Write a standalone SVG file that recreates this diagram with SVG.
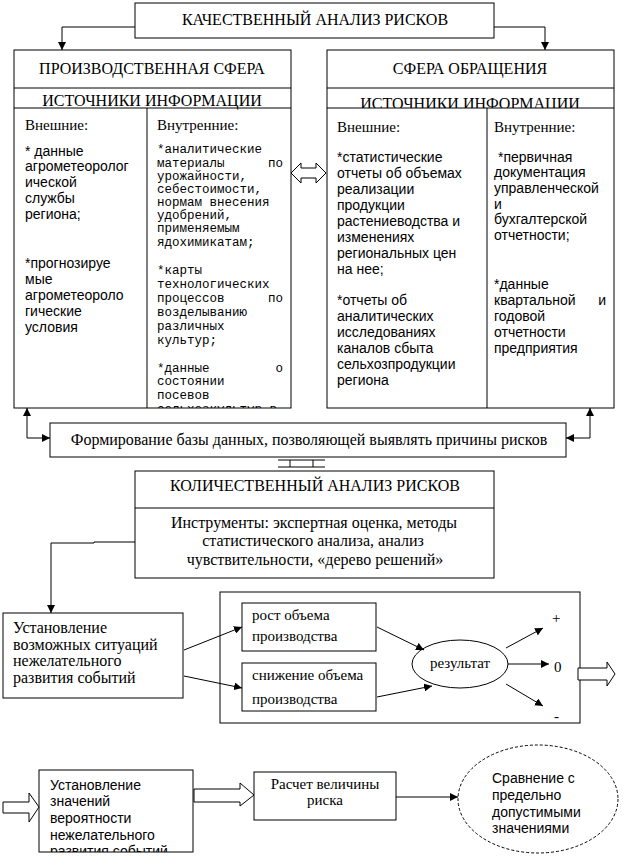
<svg xmlns="http://www.w3.org/2000/svg" width="630" height="867" viewBox="0 0 630 867">
<style>
.b{fill:#fff;stroke:#000;stroke-width:1}
.l{fill:none;stroke:#000;stroke-width:1}
.t{font-family:"Liberation Serif","Times New Roman",serif;font-size:15px;fill:#000}
.h{font-size:16px}
.c{text-anchor:middle}
.s{font-family:"Liberation Sans",Arial,sans-serif;font-size:14px;fill:#000}
.m{font-family:"Liberation Mono","Courier New",monospace;font-size:12.5px;fill:#000}
</style>
<defs>
<marker id="ah" viewBox="0 0 10 10" refX="10" refY="5" markerWidth="8" markerHeight="8" markerUnits="userSpaceOnUse" orient="auto-start-reverse"><path d="M0,0 L10,5 L0,10 z" fill="#000"/></marker>
<clipPath id="cl1"><rect x="14" y="108" width="277" height="300"/></clipPath>
<clipPath id="cl2"><rect x="327" y="88" width="287" height="20"/></clipPath>
<clipPath id="cl3"><rect x="39" y="770" width="154" height="82"/></clipPath>
</defs>
<rect width="630" height="867" fill="#fff"/>

<g id="top">
<rect class="b" x="135" y="3" width="359" height="35"/>
<text class="t h c" x="315" y="25">КАЧЕСТВЕННЫЙ АНАЛИЗ РИСКОВ</text>
</g>

<g id="production">
<rect class="b" x="14" y="50" width="277" height="358"/>
<path class="l" d="M14,88 H291 M14,108 H291 M147,108 V408"/>
<text class="t h c" x="152" y="74">ПРОИЗВОДСТВЕННАЯ СФЕРА</text>
<text class="t h c" x="152" y="106">ИСТОЧНИКИ ИНФОРМАЦИИ</text>
<g clip-path="url(#cl1)">
<text class="t" x="25" y="130">Внешние:</text>
<text class="s" x="25" y="156">* данные</text>
<text class="s" x="25" y="171">агрометеоролог</text>
<text class="s" x="25" y="187">ической</text>
<text class="s" x="25" y="203">службы</text>
<text class="s" x="25" y="219">региона;</text>
<text class="s" x="25" y="268">*прогнозируе</text>
<text class="s" x="25" y="284">мые</text>
<text class="s" x="25" y="300">агрометеороло</text>
<text class="s" x="25" y="316">гические</text>
<text class="s" x="25" y="332">условия</text>
<text class="t" x="157" y="130">Внутренние:</text>
<text class="m" x="157" y="153">*аналитические</text>
<text class="m" x="157" y="167">материалы</text>
<text class="m" x="283" y="167" text-anchor="end">по</text>
<text class="m" x="157" y="180">урожайности,</text>
<text class="m" x="157" y="193">себестоимости,</text>
<text class="m" x="157" y="206">нормам внесения</text>
<text class="m" x="157" y="219">удобрений,</text>
<text class="m" x="157" y="232">применяемым</text>
<text class="m" x="157" y="246">ядохимикатам;</text>
<text class="m" x="157" y="274">*карты</text>
<text class="m" x="157" y="288">технологических</text>
<text class="m" x="157" y="302">процессов</text>
<text class="m" x="283" y="302" text-anchor="end">по</text>
<text class="m" x="157" y="316">возделыванию</text>
<text class="m" x="157" y="330">различных</text>
<text class="m" x="157" y="344">культур;</text>
<text class="m" x="157" y="372">*данные</text>
<text class="m" x="283" y="372" text-anchor="end">о</text>
<text class="m" x="157" y="385">состоянии</text>
<text class="m" x="157" y="399">посевов</text>
<text class="m" x="157" y="413">сельхозкультур в</text>
</g>
</g>

<g id="circulation">
<rect class="b" x="327" y="50" width="287" height="358"/>
<path class="l" d="M327,88 H614 M327,108 H614 M487,108 V408"/>
<text class="t h c" x="470" y="74">СФЕРА ОБРАЩЕНИЯ</text>
<text class="t h c" x="470" y="109" clip-path="url(#cl2)">ИСТОЧНИКИ ИНФОРМАЦИИ</text>
<text class="t" x="337" y="132">Внешние:</text>
<text class="s" x="337" y="162">*статистические</text>
<text class="s" x="337" y="178">отчеты об  объемах</text>
<text class="s" x="337" y="194">реализации</text>
<text class="s" x="337" y="210">продукции</text>
<text class="s" x="337" y="226">растениеводства и</text>
<text class="s" x="337" y="242">изменениях</text>
<text class="s" x="337" y="258">региональных цен</text>
<text class="s" x="337" y="274">на нее;</text>
<text class="s" x="337" y="305">*отчеты об</text>
<text class="s" x="337" y="321">аналитических</text>
<text class="s" x="337" y="337">исследованиях</text>
<text class="s" x="337" y="353">каналов сбыта</text>
<text class="s" x="337" y="369">сельхозпродукции</text>
<text class="s" x="337" y="385">региона</text>
<text class="t" x="494" y="132">Внутренние:</text>
<text class="s" x="498" y="162">*первичная</text>
<text class="s" x="494" y="177">документация</text>
<text class="s" x="494" y="193">управленческой</text>
<text class="s" x="494" y="209">и</text>
<text class="s" x="494" y="224">бухгалтерской</text>
<text class="s" x="494" y="240">отчетности;</text>
<text class="s" x="494" y="289">*данные</text>
<text class="s" x="494" y="305">квартальной</text>
<text class="s" x="606" y="305" text-anchor="end">и</text>
<text class="s" x="494" y="321">годовой</text>
<text class="s" x="494" y="337">отчетности</text>
<text class="s" x="494" y="353">предприятия</text>
</g>

<g id="database">
<rect class="b" x="50" y="423" width="516" height="34"/>
<text class="t h c" x="309" y="445">Формирование базы данных, позволяющей выявлять причины рисков</text>
</g>

<g id="quantitative">
<rect class="b" x="135" y="471" width="359" height="107"/>
<path class="l" d="M135,508 H494"/>
<text class="t h c" x="315" y="491">КОЛИЧЕСТВЕННЫЙ АНАЛИЗ РИСКОВ</text>
<text class="t h c" x="314" y="528">Инструменты: экспертная оценка, методы</text>
<text class="t h c" x="313" y="546">статистического анализа, анализ</text>
<text class="t h c" x="315" y="565">чувствительности, «дерево решений»</text>
</g>

<g id="situations">
<rect class="b" x="3" y="613" width="180" height="85"/>
<text class="t h" x="13" y="633">Установление</text>
<text class="t h" x="13" y="650">возможных ситуаций</text>
<text class="t h" x="13" y="666">нежелательного</text>
<text class="t h" x="13" y="683">развития событий</text>
</g>

<g id="scenarios">
<rect class="b" x="220" y="592" width="360" height="131"/>
</g>

<g id="growth">
<rect class="b" x="242" y="603" width="134" height="48"/>
<text class="t" x="252" y="620">рост объема</text>
<text class="t" x="252" y="641">производства</text>
</g>

<g id="decline">
<rect class="b" x="242" y="663" width="134" height="48"/>
<text class="t" x="252" y="680">снижение объема</text>
<text class="t" x="252" y="704">производства</text>
</g>

<g id="result">
<ellipse class="b" cx="460" cy="664" rx="48" ry="24"/>
<text class="t c" x="460" y="668">результат</text>
<text class="t" x="552" y="623">+</text>
<text class="t" x="554" y="672">0</text>
<text class="t" x="554" y="721">-</text>
</g>

<g id="probability">
<rect class="b" x="39" y="770" width="154" height="82"/>
<g clip-path="url(#cl3)">
<text class="s" x="50" y="790">Установление</text>
<text class="s" x="50" y="806">значений</text>
<text class="s" x="50" y="823">вероятности</text>
<text class="s" x="50" y="840">нежелательного</text>
<text class="s" x="50" y="856">развития событий</text>
</g>
</g>

<g id="calculation">
<rect class="b" x="254" y="772" width="142" height="48"/>
<text class="t c" x="325" y="789">Расчет величины</text>
<text class="t c" x="325" y="805">риска</text>
</g>

<g id="comparison">
<ellipse class="l" cx="538" cy="799" rx="80" ry="54" stroke-dasharray="3,2"/>
<text class="s" x="492" y="783">Сравнение с</text>
<text class="s" x="492" y="800">предельно</text>
<text class="s" x="492" y="817">допустимыми</text>
<text class="s" x="492" y="833">значениями</text>
</g>

<g id="connectors">
<path class="l" d="M135,27 H62 V50" marker-end="url(#ah)"/>
<path class="l" d="M494,27 H545 V50" marker-end="url(#ah)"/>
<path class="l" d="M27,408 V438 H50" marker-start="url(#ah)" marker-end="url(#ah)"/>
<path class="l" d="M590,408 V438 H566" marker-start="url(#ah)" marker-end="url(#ah)"/>
<path class="l" d="M135,542 H94 V543 H51 V613" marker-end="url(#ah)"/>
<path class="l" d="M184,650 L242,627" marker-end="url(#ah)"/>
<path class="l" d="M184,676 L242,688" marker-end="url(#ah)"/>
<path class="l" d="M377,627 L424,650" marker-end="url(#ah)"/>
<path class="l" d="M377,697 L432,686" marker-end="url(#ah)"/>
<path class="l" d="M506,648 L543,628" marker-end="url(#ah)"/>
<path class="l" d="M508,664 L549,664" marker-end="url(#ah)"/>
<path class="l" d="M506,684 L543,706" marker-end="url(#ah)"/>
<path class="l" d="M396,797 L458,797" marker-end="url(#ah)"/>
<polygon class="b" points="291,173 301,163 301,168 316,168 316,163 326,173 316,183 316,178 301,178 301,183"/>
<path class="l" d="M278,460 H325 M278,467 H325 M290,460 V467 M313,460 V467"/>
<polygon class="b" points="578,668 607,668 607,662 615,674 607,686 607,680 578,680"/>
<polygon class="b" points="3,802 29,802 29,793 39,807 29,822 29,813 3,813"/>
<polygon class="b" points="194,789 240,789 240,783 254,795 240,806 240,802 194,802"/>
</g>
</svg>
